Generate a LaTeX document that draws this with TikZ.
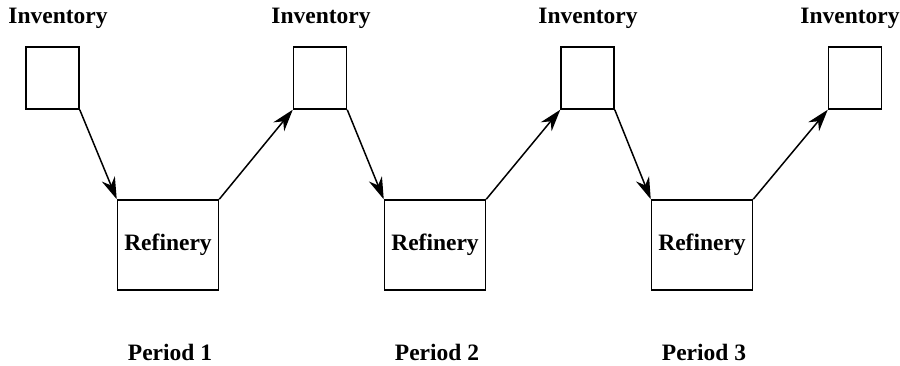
\documentclass[tikz,border=0pt]{standalone}
\usepackage{fontspec}
\setmainfont{Liberation Serif}
\usetikzlibrary{arrows.meta}
\begin{document}
\begin{tikzpicture}[x=1pt,y=-1pt,
  lbl/.style={font=\fontsize{23.5}{26}\selectfont\bfseries, inner sep=0pt},
  invbox/.style={draw, line width=1.5pt, minimum width=53pt, minimum height=62pt, inner sep=0pt},
  refbox/.style={draw, line width=1.5pt, minimum width=101pt, minimum height=90pt, inner sep=0pt, font=\fontsize{23.5}{26}\selectfont\bfseries},
  flow/.style={line width=1.5pt, -{Stealth[length=22pt,width=14pt,inset=7pt]}}]
\useasboundingbox (0,0) rectangle (900,365);
\node[invbox] (i1) at (52.5,78) {};
\node[invbox] (i2) at (320,78) {};
\node[invbox] (i3) at (587.5,78) {};
\node[invbox] (i4) at (855,78) {};
\node[lbl] (l1) at (58,18) {Inventory};
\node[lbl] (l2) at (321,18) {Inventory};
\node[lbl] (l3) at (588,18) {Inventory};
\node[lbl] (l4) at (850,18) {Inventory};
\node[refbox] (r1) at (168,245) {Refinery};
\node[refbox] (r2) at (435,245) {Refinery};
\node[refbox] (r3) at (702,245) {Refinery};
\node[lbl] (p1) at (170,352) {Period 1};
\node[lbl] (p2) at (437,352) {Period 2};
\node[lbl] (p3) at (704,352) {Period 3};
\draw[flow] (i1.south east) -- (r1.north west);
\draw[flow] (r1.north east) -- (i2.south west);
\draw[flow] (i2.south east) -- (r2.north west);
\draw[flow] (r2.north east) -- (i3.south west);
\draw[flow] (i3.south east) -- (r3.north west);
\draw[flow] (r3.north east) -- (i4.south west);
\end{tikzpicture}
\end{document}
